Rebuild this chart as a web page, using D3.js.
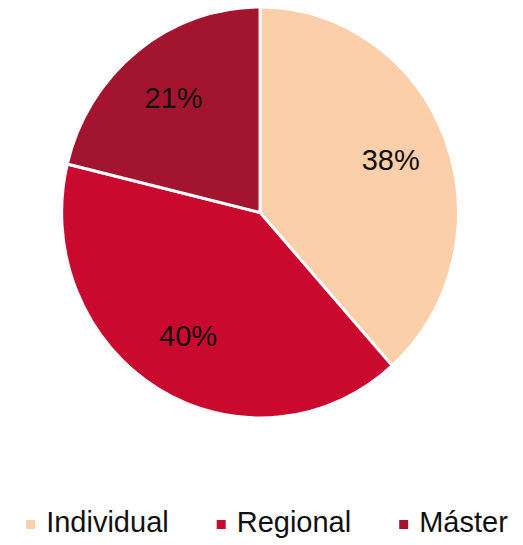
<!DOCTYPE html>
<html>

<head>
    <meta charset="utf-8">
    <style>
        body {
            margin: 0;
            background: white;
        }

        svg {
            display: block;
            font-family: 'Liberation Sans', Arial, sans-serif;
        }
    </style>
</head>

<body>
    <svg width="523" height="545"></svg>
</body>

<script src="https://d3js.org/d3.v7.min.js"></script>

<script>
    // chart data
    let categories = ["Individual", "Regional", "Máster"]
    let values = [38, 40, 21]
    let colors = ["#fbcfa9", "#c90a2e", "#a3152f"]

    let width = 523;
    let height = 545;

    let svg = d3.select("svg")

    let data = categories.map((c, i) => ({ name: c, value: values[i] }))

    let color = d3.scaleOrdinal()
        .domain(categories)
        .range(colors)

    let pie = d3.pie()
        .value(d => d.value)
        .sort(null)

    let radius = 205.5

    let arc = d3.arc()
        .innerRadius(0)
        .outerRadius(radius)

    let labelArc = d3.arc()
        .innerRadius(145)
        .outerRadius(145)

    let arcs = pie(data)

    // the source pie is a little narrower than it is tall
    let g = svg.append("g")
        .attr("transform", "translate(260,212.5) scale(0.965,1)")

    g.selectAll(".slice")
        .data(arcs)
        .join("path")
        .attr("class", "slice")
        .attr("d", arc)
        .style("fill", d => color(d.data.name))
        .style("stroke", "white")
        .style("stroke-width", 3)
        .style("stroke-linejoin", "miter")

    // percent labels
    svg.append("g")
        .attr("transform", "translate(260,212.5)")
        .selectAll("text")
        .data(arcs)
        .join("text")
        .attr("x", d => labelArc.centroid(d)[0] * 0.965)
        .attr("y", d => labelArc.centroid(d)[1])
        .attr("dy", "0.33em")
        .attr("text-anchor", "middle")
        .style("font-size", "29px")
        .style("fill", "#111")
        .text(d => d.data.value + "%")

    // LEGEND --------
    let legend = svg.append("g")
        .attr("class", "legend")

    let items = legend.selectAll("g")
        .data(categories)
        .join("g")

    items.append("rect")
        .attr("y", -12)
        .attr("width", 9)
        .attr("height", 9)
        .style("fill", d => color(d))

    items.append("text")
        .attr("x", 20)
        .style("font-size", "29px")
        .style("fill", "#111")
        .text(d => d)

    let xpos = 0
    items.each(function () {
        let item = d3.select(this)
        item.attr("transform", "translate(" + xpos + ",0)")
        let w = item.select("text").node().getComputedTextLength()
        xpos += 20 + w + 48
    })
    let total = xpos - 48
    legend.attr("transform", "translate(" + (267 - total / 2) + ",532)")
</script>

</html>
